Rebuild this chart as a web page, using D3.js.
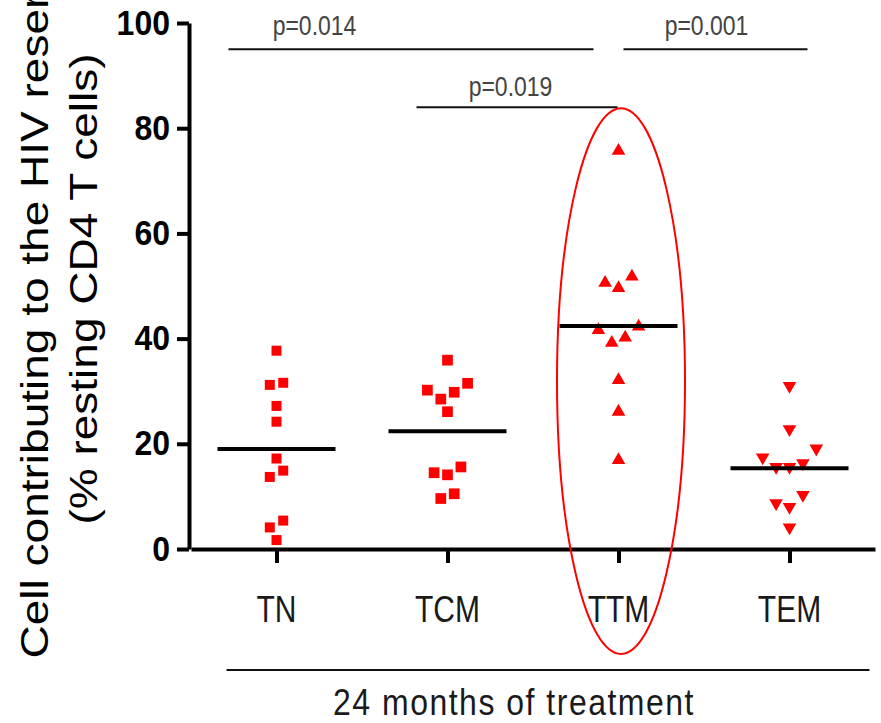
<!DOCTYPE html>
<html>
<head>
<meta charset="utf-8">
<script src="https://cdn.jsdelivr.net/npm/d3@7"></script>
<style>
  html, body { margin: 0; padding: 0; background: #fff; }
  svg { display: block; font-family: "Liberation Sans", Arial, sans-serif; }
</style>
</head>
<body>
<div id="chart"></div>
<script>
// values (% of resting CD4 T cells)
var categories = ['TN', 'TCM', 'TTM', 'TEM'];
var tnValues = [37.7, 31.6, 31.2, 27.2, 24.2, 17.2, 14.9, 13.7, 5.4, 4.1, 1.7];
var tcmValues = [35.9, 31.5, 30.2, 29.8, 28.5, 26.1, 15.6, 14.5, 14.1, 10.5, 9.6];
var ttmValues = [75.7, 51.8, 50.6, 49.6, 42.3, 41.6, 40.2, 39.2, 32.1, 26.1, 16.9];
var temValues = [31.0, 22.8, 19.1, 17.4, 16.3, 15.6, 15.6, 10.3, 8.7, 8.0, 4.1];
var yTicks = [0, 20, 40, 60, 80, 100];
var pLabels = ['p=0.014', 'p=0.019', 'p=0.001'];
var pPairs = [['TN', 'TTM'], ['TCM', 'TTM'], ['TTM', 'TEM']];
var yTitle = ['Cell contributing to the HIV reservoir', '(% resting CD4 T cells)'];
var xTitle = '24 months of treatment';

var width = 881,
  height = 723,
  stretch = 1.18; // the original figure is stretched vertically

var groups = [tnValues, tcmValues, ttmValues, temValues];
var shapes = [d3.symbolSquare, d3.symbolSquare, d3.symbolTriangle, d3.symbolTriangle];
var shapeSize = [100, 115, 80, 80];
var flip = [0, 0, 0, 180];

var svg = d3.select('#chart').append('svg')
  .attr('width', width)
  .attr('height', height);

var x = d3.scalePoint()
  .domain(categories)
  .range([191, 875])
  .padding(0.5);

var y = d3.scaleLinear()
  .domain([0, 100])
  .range([549, 23]);

// spread points that sit at about the same height (column scatter)
function swarm(values, cx) {
  var sorted = values.slice().sort(d3.descending);
  var rows = [], row = null, lastY = null;
  sorted.forEach(function (v) {
    var py = y(v);
    if (row && py - lastY < 9) row.push(v);
    else { row = [v]; rows.push(row); }
    lastY = py;
  });
  var pts = [];
  rows.forEach(function (r) {
    var n = r.length;
    var slots = d3.range(n).map(function (i) { return (i - (n - 1) / 2) * 13.4; });
    slots.sort(function (a, b) { return Math.abs(b) - Math.abs(a) || b - a; });
    r.forEach(function (v, i) { pts.push({ x: cx + slots[i], y: y(v), v: v }); });
  });
  return pts;
}

// y axis
var yAxis = svg.append('g')
  .attr('transform', 'translate(189,0)')
  .call(d3.axisLeft(y).tickValues(yTicks).tickSize(12).tickSizeOuter(0).tickPadding(7));
yAxis.selectAll('path, line').attr('stroke', '#000').attr('stroke-width', 4);
yAxis.selectAll('text')
  .attr('fill', '#000')
  .attr('font-size', 32)
  .attr('font-weight', 'bold')
  .attr('font-family', '"Liberation Sans", Arial, sans-serif')
  .attr('transform', 'scale(1,1.08)');

// x axis
var xAxis = svg.append('g')
  .attr('transform', 'translate(0,549)')
  .call(d3.axisBottom(x).tickSize(14).tickSizeOuter(0).tickFormat(''));
xAxis.selectAll('path, line').attr('stroke', '#000').attr('stroke-width', 4);

svg.selectAll('.cat')
  .data(categories)
  .enter().append('text')
  .attr('class', 'cat')
  .attr('transform', function (d) { return 'translate(' + x(d) + ',622) scale(1,1.26)'; })
  .attr('text-anchor', 'middle')
  .attr('font-size', 30)
  .attr('fill', '#1a1a1a')
  .text(function (d) { return d; });

// y title, two lines, clipped at the top like the original
yTitle.forEach(function (t, i) {
  svg.append('text')
    .attr('transform', 'translate(' + (48 + i * 49) + ',289) rotate(-90) scale(' + stretch + ',1)')
    .attr('text-anchor', 'middle')
    .attr('font-size', 39)
    .attr('fill', '#000')
    .text(t);
});

// points
groups.forEach(function (vals, gi) {
  var cx = x(categories[gi]);
  var sym = d3.symbol().type(shapes[gi]).size(shapeSize[gi]);
  svg.append('g').selectAll('path')
    .data(swarm(vals, cx))
    .enter().append('path')
    .attr('d', sym)
    .attr('fill', '#ff0000')
    .attr('transform', function (d) {
      return 'translate(' + d.x + ',' + d.y + ') rotate(' + flip[gi] + ')';
    });

  // mean line
  svg.append('line')
    .attr('x1', cx - 59)
    .attr('x2', cx + 59)
    .attr('y1', y(d3.mean(vals)))
    .attr('y2', y(d3.mean(vals)))
    .attr('stroke', '#000')
    .attr('stroke-width', 4);
});

// significance bars: [start offset, end offset, bar level, label offset from end, label level]
var barOffsets = [[-48, -25, 95, -279, 97.7], [-31, -1, 84, -107, 86.2], [5, 18, 95, -101, 97.7]];
pPairs.forEach(function (pair, i) {
  var o = barOffsets[i];
  var x1 = x(pair[0]) + o[0], x2 = x(pair[1]) + o[1];
  svg.append('line')
    .attr('x1', x1).attr('x2', x2)
    .attr('y1', y(o[2])).attr('y2', y(o[2]))
    .attr('stroke', '#111')
    .attr('stroke-width', 2);
  svg.append('text')
    .attr('transform', 'translate(' + (x2 + o[3]) + ',' + y(o[4]) + ') scale(1,' + stretch + ')')
    .attr('text-anchor', 'middle')
    .attr('font-size', 23)
    .attr('fill', '#444')
    .text(pLabels[i]);
});

// red ellipse round TTM
svg.append('ellipse')
  .attr('cx', x('TTM') + 2.5)
  .attr('cy', (y(83.8) + y(0) + 105) / 2)
  .attr('rx', 64)
  .attr('ry', (y(0) + 105 - y(83.8)) / 2)
  .attr('fill', 'none')
  .attr('stroke', '#ff0000')
  .attr('stroke-width', 2);

// group bar under the axis
svg.append('line')
  .attr('x1', x('TN') - 50).attr('x2', x('TEM') + 80)
  .attr('y1', 670).attr('y2', 670)
  .attr('stroke', '#111')
  .attr('stroke-width', 2);

svg.append('text')
  .attr('transform', 'translate(514,715) scale(1,' + stretch + ')')
  .attr('text-anchor', 'middle')
  .attr('font-size', 32)
  .attr('letter-spacing', 1.5)
  .attr('fill', '#1a1a1a')
  .text(xTitle);
</script>
</body>
</html>
